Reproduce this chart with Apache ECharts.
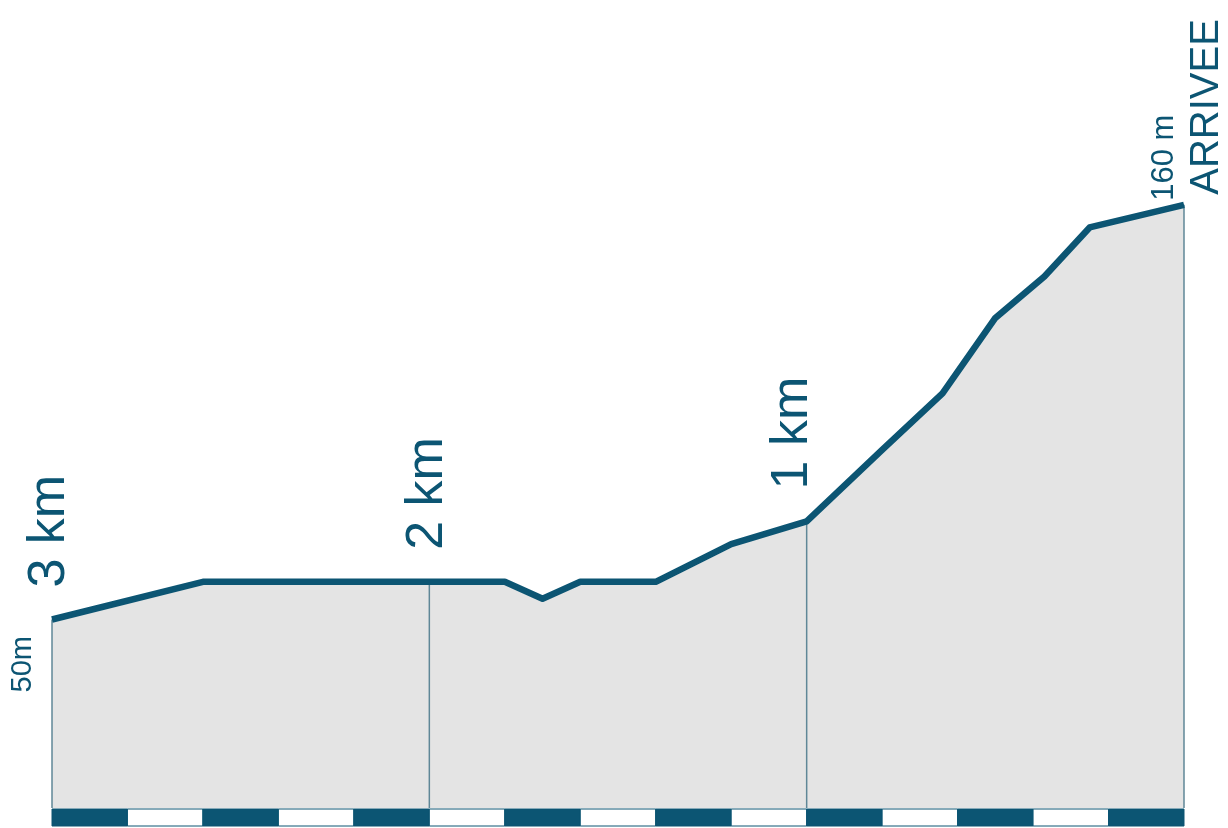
<!DOCTYPE html>
<html><head><meta charset="utf-8">
<script src="https://cdn.jsdelivr.net/npm/echarts@6/dist/echarts.min.js"></script>
<style>html,body{margin:0;padding:0;background:#fff}#c{width:1228px;height:828px}</style>
</head><body><div id="c"></div>
<script>
// distance to finish (km) and elevation (m)
const kmToFinish = [3.0, 2.6, 2.0, 1.8, 1.7, 1.6, 1.4, 1.2, 1.0, 0.8, 0.64, 0.5, 0.37, 0.25, 0.0];
const elevation  = [50, 60, 60, 60, 55.5, 60, 60, 70, 76, 95, 110, 130, 141, 154, 160];
const kmMarks = [3, 2, 1];
const kmMarkLabels = ['3 km', '2 km', '1 km'];
const edgeMarks = [3, 0];
const scaleSegStart = [3.0, 2.8, 2.6, 2.4, 2.2, 2.0, 1.8, 1.6, 1.4, 1.2, 1.0, 0.8, 0.6, 0.4, 0.2];
const scaleSegLength = 0.2;
const startAltLabel = '50m';
const finishAltLabel = '160 m';
const finishLabel = 'ARRIVEE';

const DARK = '#0c5573';
const FILL = '#e4e4e4';
const THIN = '#5f8797';
const FONT = '"Liberation Sans", Arial, sans-serif';

function elevAt(km) { return elevation[kmToFinish.indexOf(km)]; }

const chart = echarts.init(document.getElementById('c'));
const profile = kmToFinish.map((k, i) => [k, elevation[i]]);
const vMarks = edgeMarks.concat(kmMarks.filter(k => edgeMarks.indexOf(k) < 0));
const vLineData = vMarks.map(k => [k, 0, elevAt(k)]);

chart.setOption({
  animation: false,
  grid: { left: 52, right: 44, top: 54, bottom: 20 },
  xAxis: { type: 'value', min: 0, max: 3, inverse: true, show: false },
  yAxis: { type: 'value', min: 0, max: 200, show: false, splitLine: { show: false } },
  series: [
    {
      type: 'line', data: profile, symbol: 'none', z: 3,
      lineStyle: { width: 0, opacity: 0 },
      areaStyle: { color: FILL, opacity: 1 }
    },
    {
      type: 'custom', clip: false, z: 4,
      data: vLineData,
      encode: { x: 0, y: [1, 2] },
      renderItem: function (params, api) {
        const a = api.coord([api.value(0), api.value(1)]);
        const b = api.coord([api.value(0), api.value(2)]);
        return {
          type: 'line',
          shape: { x1: a[0], y1: a[1], x2: b[0], y2: b[1] },
          style: { stroke: THIN, lineWidth: 1.5 }
        };
      }
    },
    {
      type: 'line', data: profile, symbol: 'none', z: 5,
      lineStyle: { color: DARK, width: 6.5, join: 'round', cap: 'butt' }
    },
    {
      type: 'custom', clip: false, z: 6,
      data: scaleSegStart.map((s, i) => [s, s - scaleSegLength, i]),
      encode: { x: [0, 1] },
      renderItem: function (params, api) {
        const p0 = api.coord([api.value(0), 0]);
        const p1 = api.coord([api.value(1), 0]);
        const x = Math.min(p0[0], p1[0]);
        const w = Math.abs(p1[0] - p0[0]);
        const idx = api.value(2);
        return {
          type: 'rect',
          shape: { x: x, y: p0[1] + 1, width: w, height: 17 },
          style: { fill: idx % 2 ? '#ffffff' : DARK, stroke: DARK, lineWidth: 1 }
        };
      }
    }
  ]
});

function vtext(anchor, dx, dy, text, size) {
  const p = chart.convertToPixel({ gridIndex: 0 }, anchor);
  return {
    type: 'text', x: p[0] + dx, y: p[1] + dy, rotation: Math.PI / 2, z: 10,
    style: {
      text: text, fontSize: size, fontFamily: FONT, fill: DARK,
      align: 'left', verticalAlign: 'middle', textAlign: 'left', textVerticalAlign: 'middle'
    }
  };
}

const kmDx = [-2, -2, -14];
const g = kmMarks.map((k, i) => vtext([k, elevAt(k)], kmDx[i], -32, kmMarkLabels[i], 52));
g.push(vtext([3, elevAt(3)], -29, 73, startAltLabel, 29));
g.push(vtext([0, elevAt(0)], -20, -4, finishAltLabel, 31));
g.push(vtext([0, elevAt(0)], 23, -10, finishLabel, 40));
chart.setOption({ graphic: g });
</script>
</body></html>
